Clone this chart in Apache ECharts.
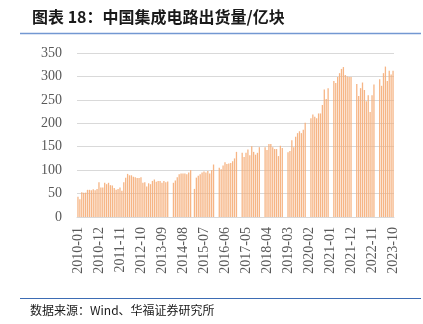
<!DOCTYPE html>
<html><head><meta charset="utf-8">
<script src="https://cdn.jsdelivr.net/npm/echarts@6/dist/echarts.min.js"></script>
<style>html,body{margin:0;padding:0;background:#fff}#c{width:423px;height:324px}</style>
</head><body><div id="c"></div>
<script>
// Monthly values (亿块); null = month not reported
var v2010 = [43,38,53,52,52,58,58,57,59,57,60,74];
var v2011 = [63,63,73,70,73,68,67,62,58,60,63,56];
var v2012 = [74,84,92,89,89,86,85,83,83,85,73,74];
var v2013 = [65,72,70,77,80,75,77,77,73,77,74,76];
var v2014 = [null,null,73,78,85,91,93,93,93,91,95,100];
var v2015 = [null,60,84,88,91,95,97,95,98,93,100,112];
var v2016 = [null,null,105,102,110,117,113,114,115,119,125,139];
var v2017 = [null,null,137,128,137,144,132,151,139,133,137,149];
var v2018 = [null,null,149,143,156,156,149,145,145,130,152,147];
var v2019 = [null,null,138,141,164,149,171,179,183,179,186,201];
var v2020 = [null,null,211,219,214,211,221,221,239,272,252,275];
var v2021 = [null,null,290,286,299,307,316,320,303,300,299,299];
var v2022 = [null,null,284,258,275,287,271,247,260,224,260,283];
var v2023 = [null,null,294,280,307,321,290,312,304,312];
var years = [2010,2011,2012,2013,2014,2015,2016,2017,2018,2019,2020,2021,2022,2023];
var yearValues = [v2010,v2011,v2012,v2013,v2014,v2015,v2016,v2017,v2018,v2019,v2020,v2021,v2022,v2023];
var yTicks = [0,50,100,150,200,250,300,350];

var categories = [], values = [];
years.forEach(function(y, k){
  yearValues[k].forEach(function(v, m){
    categories.push(y + '-' + (m < 9 ? '0' : '') + (m + 1));
    values.push(v);
  });
});

var chart = echarts.init(document.getElementById('c'), null, {renderer:'canvas'});
chart.setOption({
  animation:false,
  backgroundColor:'#fff',
  grid:{left:77, right:29, top:53, bottom:107, containLabel:false},
  xAxis:{
    type:'category', data:categories, boundaryGap:true,
    axisLine:{show:true, lineStyle:{color:'#d9d9d9', width:1}},
    axisTick:{show:false},
    axisLabel:{interval:10, rotate:90, margin:10, color:'#595959',
      fontFamily:'Liberation Serif', fontSize:14}
  },
  yAxis:{
    type:'value', min:yTicks[0], max:yTicks[yTicks.length-1], interval:50,
    axisLine:{show:false}, axisTick:{show:false},
    axisLabel:{color:'#595959', fontFamily:'Liberation Serif', fontSize:14, margin:15},
    splitLine:{lineStyle:{color:'#d9d9d9', width:1}}
  },
  series:[{
    type:'bar', data:values, barWidth:'68%',
    itemStyle:{color:'#f5ad78', opacity:0.9}
  }],
  graphic:[
    {type:'text', left:32, top:9, style:{text:'图表 18：中国集成电路出货量/亿块',
      font:'bold 16px "Noto Sans CJK SC"', fill:'#1a1a1a'}},
    {type:'line', shape:{x1:20, y1:33.5, x2:421, y2:33.5}, style:{stroke:'#7398d2', lineWidth:1.5}},
    {type:'line', shape:{x1:20, y1:298.5, x2:421, y2:298.5}, style:{stroke:'#3d6cb4', lineWidth:1.2}},
    {type:'text', left:30, top:304, style:{text:'数据来源：Wind、华福证券研究所',
      font:'12px "Noto Sans CJK SC"', fill:'#1a1a1a'}}
  ]
});
</script></body></html>
